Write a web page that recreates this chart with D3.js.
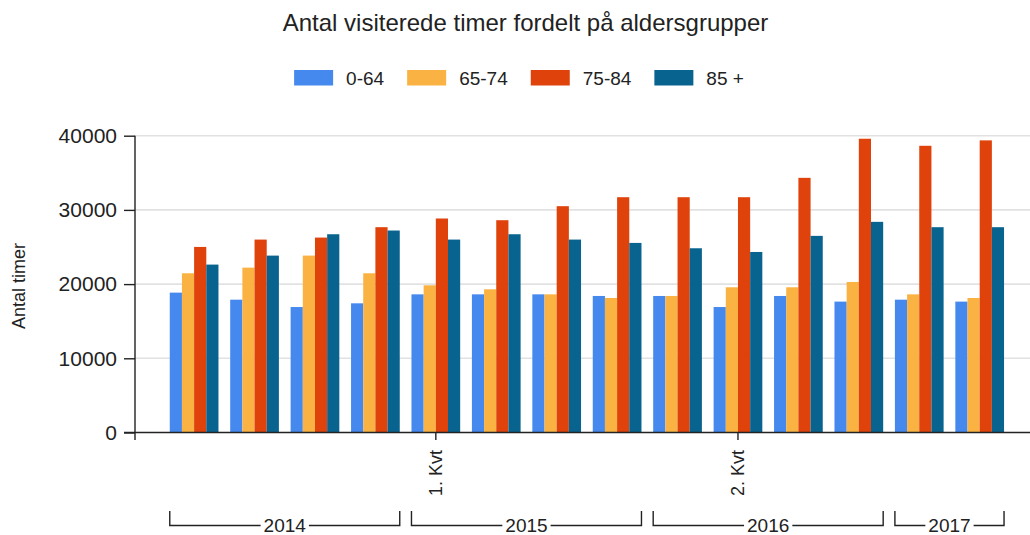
<!DOCTYPE html>
<html lang="da">
<head>
<meta charset="utf-8">
<script src="https://d3js.org/d3.v7.min.js"></script>
<style>
  body { margin: 0; background: #fff; }
  text { font-family: Arial, "Liberation Sans", sans-serif; fill: #222; }
  .grid line { stroke: #e2e2e2; stroke-width: 1.6; }
</style>
</head>
<body>
<svg id="chart" width="1030" height="535"></svg>
<script>
// quarters, 2014 Q1 .. 2017 Q2
var years = ["2014", "2014", "2014", "2014", "2015", "2015", "2015", "2015",
             "2016", "2016", "2016", "2016", "2017", "2017"];
var quarters = ["1. Kvt", "2. Kvt", "3. Kvt", "4. Kvt", "1. Kvt", "2. Kvt", "3. Kvt", "4. Kvt",
                "1. Kvt", "2. Kvt", "3. Kvt", "4. Kvt", "1. Kvt", "2. Kvt"];
var shownTicks = [4, 9];   // only these quarter labels are shown on the axis

var seriesNames = ["0-64", "65-74", "75-84", "85 +"];
var seriesColors = ["#4589ef", "#fab342", "#df420a", "#08648f"];

var age0_64  = [18850, 17900, 16910, 17410, 18620, 18620, 18620, 18400, 18400, 16910, 18400, 17640, 17900, 17640];
var age65_74 = [21460, 22220, 23840, 21460, 19840, 19300, 18620, 18130, 18400, 19570, 19570, 20290, 18620, 18130];
var age75_84 = [25010, 26000, 26270, 27670, 28840, 28610, 30500, 31710, 31710, 31710, 34320, 39590, 38640, 39370];
var age85    = [22630, 23840, 26720, 27220, 26000, 26720, 26000, 25550, 24830, 24330, 26500, 28390, 27670, 27670];

var yTicks = [0, 10000, 20000, 30000, 40000];

var series = [age0_64, age65_74, age75_84, age85];
var svg = d3.select("#chart");

var idx = d3.range(years.length);
var x = d3.scaleBand().domain(idx).range([163.9, 1009.9])
    .paddingInner(0.194).paddingOuter(0.097);
var xs = d3.scaleBand().domain(d3.range(series.length)).range([0, x.bandwidth()]);
var y = d3.scaleLinear().domain([0, 40000]).range([432.5, 135.7]);

// title
svg.append("text")
  .attr("x", 525.5).attr("y", 30.5)
  .attr("text-anchor", "middle")
  .style("font-size", "24px")
  .text("Antal visiterede timer fordelt på aldersgrupper");

// legend
var legend = svg.append("g");
var lx = 0;
seriesNames.forEach(function(name, i) {
  var g = legend.append("g").attr("transform", "translate(" + lx + ",0)");
  g.append("rect").attr("x", 0).attr("y", 70).attr("width", 39).attr("height", 15.5)
    .attr("fill", seriesColors[i]);
  var t = g.append("text").attr("x", 52).attr("y", 85)
    .style("font-size", "19px").text(name);
  lx += 52 + t.node().getComputedTextLength() + 23;
});
var legendW = lx - 23;
legend.attr("transform", "translate(" + (519 - legendW / 2) + ",0)");

// gridlines
svg.append("g").attr("class", "grid")
  .selectAll("line").data(yTicks.slice(1)).enter().append("line")
  .attr("x1", 135).attr("x2", 1030)
  .attr("y1", function(d) { return y(d); })
  .attr("y2", function(d) { return y(d); });

// bars
svg.append("g").selectAll("g")
  .data(series).enter().append("g")
  .attr("fill", function(d, i) { return seriesColors[i]; })
  .each(function(vals, si) {
    d3.select(this).selectAll("rect").data(vals).enter().append("rect")
      .attr("x", function(d, i) { return x(i) + xs(si); })
      .attr("width", xs.bandwidth())
      .attr("y", function(d) { return y(d); })
      .attr("height", function(d) { return y(0) - y(d); });
  });

// y axis
var yAxis = svg.append("g").attr("transform", "translate(135,0)")
  .call(d3.axisLeft(y).tickValues(yTicks).tickSize(11).tickPadding(7).tickFormat(d3.format("d")));
yAxis.select(".domain").remove();
yAxis.selectAll(".tick line").attr("stroke", "#222").attr("stroke-width", 1.4);
yAxis.selectAll(".tick text").style("font-size", "21px").attr("fill", "#222")
  .style("font-family", "Arial, 'Liberation Sans', sans-serif");
svg.append("line").attr("x1", 135).attr("x2", 135)
  .attr("y1", y(40000)).attr("y2", 440)
  .attr("stroke", "#222").attr("stroke-width", 1.4);

svg.append("text")
  .attr("transform", "translate(25,286) rotate(-90)")
  .attr("text-anchor", "middle")
  .style("font-size", "18px")
  .text("Antal timer");

// x axis
svg.append("line").attr("x1", 124).attr("x2", 1030)
  .attr("y1", y(0)).attr("y2", y(0))
  .attr("stroke", "#222").attr("stroke-width", 1.4);

var xt = svg.append("g").selectAll("g").data(shownTicks).enter().append("g")
  .attr("transform", function(i) { return "translate(" + (x(i) + x.bandwidth() / 2) + ",0)"; });
xt.append("line").attr("y1", y(0)).attr("y2", 440)
  .attr("stroke", "#222").attr("stroke-width", 1.4);
xt.append("text")
  .attr("transform", "translate(0,450) rotate(-90)")
  .attr("text-anchor", "end")
  .attr("dy", "0.35em")
  .style("font-size", "18px")
  .text(function(i) { return quarters[i]; });

// year brackets
var yearNames = Array.from(new Set(years));
yearNames.forEach(function(yr) {
  var ids = idx.filter(function(i) { return years[i] === yr; });
  var x0 = x(ids[0]) + xs(0);
  var x1 = x(ids[ids.length - 1]) + xs(series.length - 1) + xs.bandwidth();
  var cx = (x0 + x1) / 2;
  var g = svg.append("g");
  var t = g.append("text").attr("x", cx).attr("y", 531.5)
    .attr("text-anchor", "middle").style("font-size", "19px").text(yr);
  var tw = t.node().getComputedTextLength();
  var path = "M" + x0 + ",511V525.5H" + (cx - tw / 2 - 3) +
             "M" + (cx + tw / 2 + 3) + ",525.5H" + x1 + "V511";
  g.append("path").attr("d", path).attr("fill", "none")
    .attr("stroke", "#222").attr("stroke-width", 1.4);
});
</script>
</body>
</html>
